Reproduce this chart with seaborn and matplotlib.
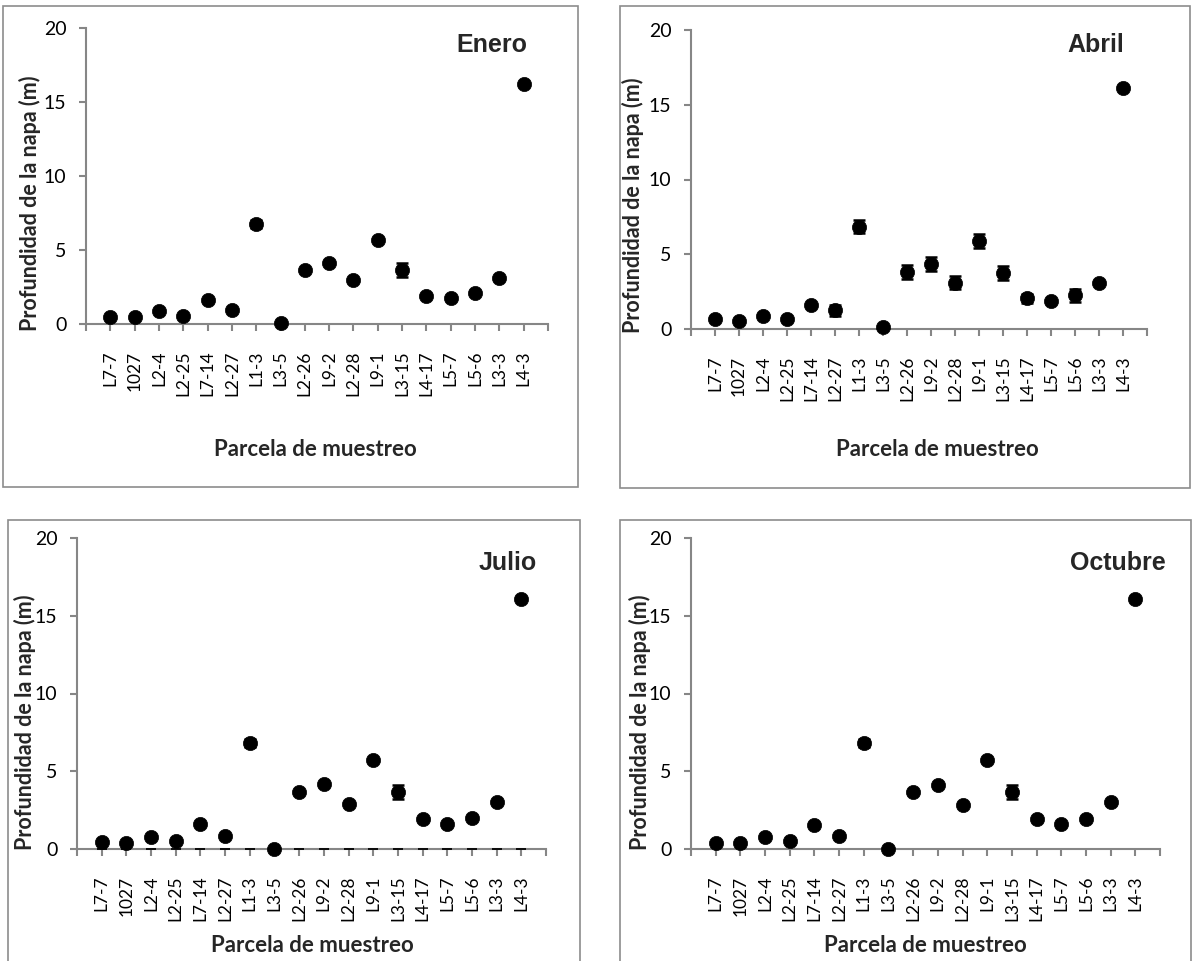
import numpy as np
import pandas as pd
import matplotlib
matplotlib.use("Agg")
import matplotlib.pyplot as plt
from matplotlib.patches import Rectangle
import seaborn as sns

parcelas = ["L7-7", "1027", "L2-4", "L2-25", "L7-14", "L2-27", "L1-3", "L3-5", "L2-26",
            "L9-2", "L2-28", "L9-1", "L3-15", "L4-17", "L5-7", "L5-6", "L3-3", "L4-3"]

enero = [0.5, 0.5, 0.85, 0.55, 1.6, 0.95, 6.75, 0.05, 3.65, 4.15, 2.95, 5.7, 3.65, 1.9, 1.75, 2.1, 3.1, 16.2]
enero_err = [0.05, 0.05, 0.05, 0.05, 0.1, 0.05, 0.25, 0.05, 0.1, 0.1, 0.1, 0.1, 0.45, 0.1, 0.1, 0.1, 0.1, 0.1]

abril = [0.7, 0.55, 0.9, 0.65, 1.6, 1.25, 6.85, 0.15, 3.8, 4.35, 3.1, 5.9, 3.75, 2.05, 1.85, 2.25, 3.1, 16.15]
abril_err = [0.1, 0.05, 0.1, 0.1, 0.1, 0.35, 0.45, 0.05, 0.45, 0.45, 0.45, 0.45, 0.45, 0.3, 0.1, 0.45, 0.1, 0.1]

julio = [0.45, 0.4, 0.8, 0.5, 1.6, 0.85, 6.8, 0.0, 3.65, 4.15, 2.9, 5.7, 3.65, 1.9, 1.6, 2.0, 3.0, 16.1]
julio_err = [0.05, 0.05, 0.05, 0.05, 0.1, 0.05, 0.25, 0.0, 0.1, 0.1, 0.1, 0.1, 0.45, 0.1, 0.1, 0.1, 0.1, 0.1]
julio_cero = [0.0] * 18

octubre = [0.4, 0.4, 0.8, 0.5, 1.55, 0.85, 6.8, 0.0, 3.65, 4.1, 2.85, 5.7, 3.65, 1.9, 1.6, 1.95, 3.0, 16.1]
octubre_err = [0.05, 0.05, 0.05, 0.05, 0.1, 0.05, 0.25, 0.0, 0.1, 0.1, 0.1, 0.1, 0.45, 0.1, 0.1, 0.1, 0.1, 0.1]

meses = ["Enero", "Abril", "Julio", "Octubre"]
valores = [enero, abril, julio, octubre]
errores = [enero_err, abril_err, julio_err, octubre_err]

ylabel = "Profundidad de la napa (m)"
xlabel = "Parcela de muestreo"
yticks = [0, 5, 10, 15, 20]

sns.set_theme(style="white")
plt.rcParams["font.family"] = ["Lato", "DejaVu Sans"]

W, H = 1192, 961
fig = plt.figure(figsize=(W / 100, H / 100), dpi=100)
fig.patch.set_facecolor("white")

def fx(px):
    return px / W

def fy(py):
    return 1 - py / H

# layout in pixels: axes left, right, top(y=20), bottom(y=0)
layout = [
    dict(ax=(86, 548, 28, 324), box=(3, 6, 578, 487), title=(527, 45),
         xl=(315, 450), yl=(30, 203)),
    dict(ax=(691, 1147, 30, 329), box=(620, 6, 1190, 488), title=(1124, 45),
         xl=(937, 450), yl=(633, 205)),
    dict(ax=(77, 546, 538, 849), box=(8, 520, 580, 975), title=(537, 563),
         xl=(312, 945), yl=(25, 722)),
    dict(ax=(691, 1160, 538, 849), box=(620, 520, 1191, 975), title=(1166, 563),
         xl=(925, 945), yl=(640, 722)),
]

gray = "#868686"
pos = np.arange(len(parcelas))

for i, (mes, vals, errs, L) in enumerate(zip(meses, valores, errores, layout)):
    x0, x1, yt, yb = L["ax"]
    bx0, by0, bx1, by1 = L["box"]
    fig.patches.append(Rectangle((fx(bx0), fy(by1)), fx(bx1 - bx0), (by1 - by0) / H,
                                 transform=fig.transFigure, fill=False,
                                 edgecolor="#8c8c8c", linewidth=1.2, zorder=0))
    ax = fig.add_axes([fx(x0), fy(yb), fx(x1 - x0), (yb - yt) / H])
    ax.set_facecolor("none")
    df = pd.DataFrame({"parcela": parcelas, "pos": pos, "valor": vals, "err": errs})

    if mes == "Julio":
        ax.scatter(pos, julio_cero, marker="_", s=60, color="black", linewidths=1.3,
                   zorder=3, clip_on=False)

    ax.errorbar(df["pos"], df["valor"], yerr=df["err"], fmt="none", ecolor="black",
                elinewidth=1.5, capsize=4, capthick=1.8, zorder=3)
    sns.scatterplot(data=df, x="pos", y="valor", ax=ax, color="black", s=105,
                    edgecolor="black", linewidth=0.5, zorder=4, clip_on=False, legend=False)

    ax.set_xlim(-1, len(parcelas))
    ax.set_ylim(0, 20)
    ax.set_xticks(np.arange(-1, len(parcelas) + 1))
    ax.set_xticklabels([""] + parcelas + [""], rotation=90, fontsize=12.5)
    ax.set_yticks(yticks)
    ax.set_yticklabels([str(t) for t in yticks], fontsize=14)

    for s in ["top", "right"]:
        ax.spines[s].set_visible(False)
    for s in ["left", "bottom"]:
        ax.spines[s].set_color(gray)
        ax.spines[s].set_linewidth(1.5)
    ax.tick_params(axis="x", direction="out", length=5, width=1.5, color=gray, pad=14,
                   labelcolor="black", bottom=True)
    ax.tick_params(axis="y", direction="out", length=5, width=1.5, color=gray, pad=9,
                   labelcolor="black", left=True)
    ax.grid(False)

    ax.set_xlabel(xlabel, fontsize=16, fontweight="bold", va="center")
    ax.xaxis.set_label_coords(fx(L["xl"][0]), fy(L["xl"][1]), transform=fig.transFigure)
    ax.set_ylabel(ylabel, fontsize=15.5, fontweight="bold", va="center")
    ax.yaxis.set_label_coords(fx(L["yl"][0]), fy(L["yl"][1]), transform=fig.transFigure)

    fig.text(fx(L["title"][0]), fy(L["title"][1]), mes, ha="right", va="center",
             fontsize=18, fontweight="bold", family=["Liberation Sans", "DejaVu Sans"])

fig.savefig("out.png", dpi=100, facecolor="white")
